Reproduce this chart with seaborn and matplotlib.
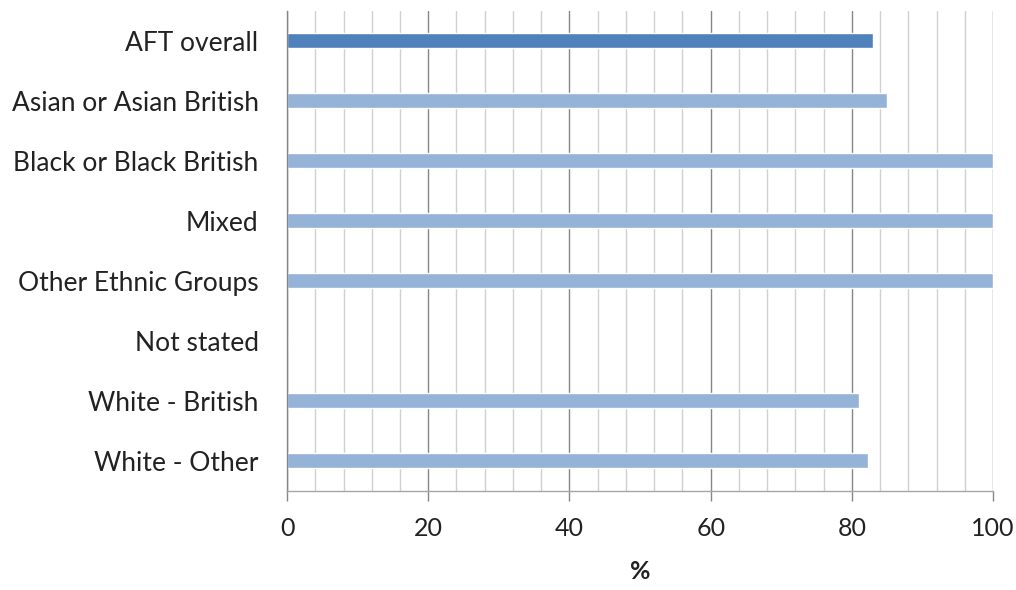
import numpy as np
import pandas as pd
import matplotlib
matplotlib.use("Agg")
import matplotlib.pyplot as plt
import seaborn as sns
from matplotlib.ticker import MultipleLocator

# data
groups = ['AFT overall', 'Asian or Asian British', 'Black or Black British', 'Mixed',
          'Other Ethnic Groups', 'Not stated', 'White - British', 'White - Other']
percent = [83.0, 85.0, 100.0, 100.0, 100.0, 0.0, 81.0, 82.3]
bar_colours = ['#4f81bd', '#95b3d7', '#95b3d7', '#95b3d7', '#95b3d7', '#95b3d7', '#95b3d7', '#95b3d7']
x_ticks = [0, 20, 40, 60, 80, 100]

df = pd.DataFrame({'Group': groups, 'Percent': percent})

sns.set_style('white')
plt.rcParams['font.family'] = ['Lato', 'DejaVu Sans']

fig = plt.figure(figsize=(10.16, 5.9), dpi=100)
ax = fig.add_axes([0.2825, 0.1678, 0.695, 0.8136])

sns.barplot(data=df, x='Percent', y='Group', hue='Group', palette=bar_colours,
            legend=False, width=0.25, ax=ax, orient='h', saturation=1)

ax.set_xlim(0, 100)
ax.set_ylim(7.5, -0.5)
ax.set_xticks(x_ticks)
ax.xaxis.set_minor_locator(MultipleLocator(4))
ax.grid(which='major', axis='x', color='#868686', linewidth=1.0)
ax.grid(which='minor', axis='x', color='#d0d0d0', linewidth=1.0)
ax.set_axisbelow(True)

for side in ['top', 'right']:
    ax.spines[side].set_visible(False)
ax.spines['left'].set_color('#868686')
ax.spines['bottom'].set_color('#a6a6a6')
ax.spines['left'].set_linewidth(1.0)
ax.spines['bottom'].set_linewidth(1.0)

ax.tick_params(axis='x', which='major', bottom=True, length=7, width=1, color='#868686',
               labelsize=18, pad=12, labelcolor='#222222')
ax.tick_params(axis='x', which='minor', bottom=False)
ax.tick_params(axis='y', left=False, labelsize=19, pad=17, labelcolor='#222222')

ax.set_ylabel('')
ax.set_xlabel('%', fontsize=18, fontweight='bold', labelpad=14, color='#222222')

fig.savefig('out.png', dpi=100)
